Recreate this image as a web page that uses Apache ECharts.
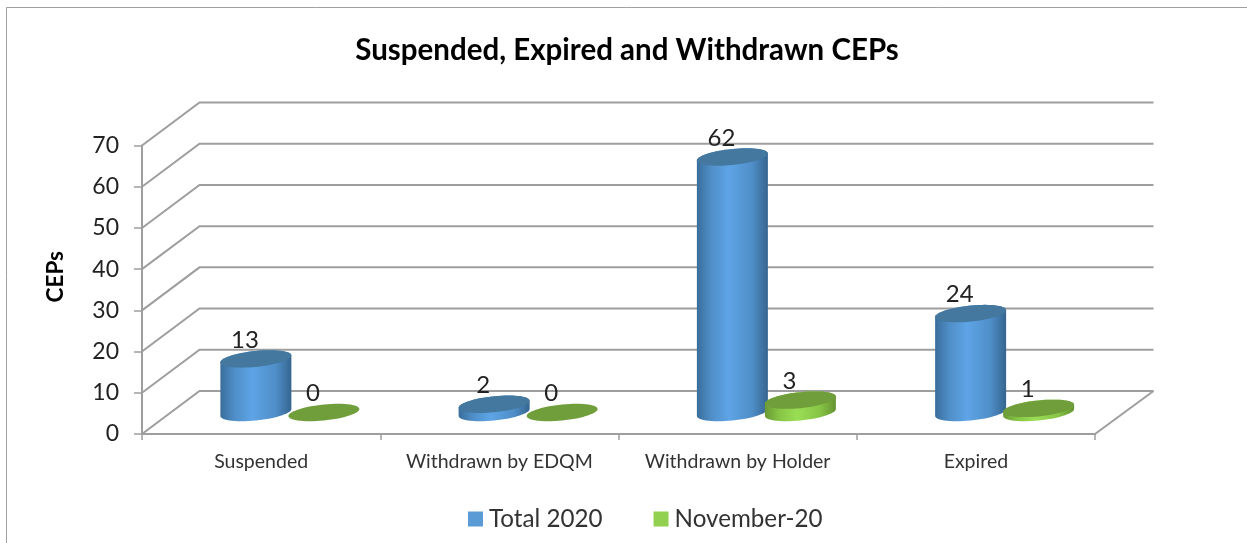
<!DOCTYPE html>
<html>
<head>
<meta charset="utf-8">
<style>html,body{margin:0;padding:0;background:#fff}#c{width:1247px;height:543px}</style>
<script src="https://cdn.jsdelivr.net/npm/echarts@6/dist/echarts.min.js"></script>
</head>
<body>
<div id="c"></div>
<script>
const chartTitle = 'Suspended, Expired and Withdrawn CEPs';
const categories = ['Suspended', 'Withdrawn by EDQM', 'Withdrawn by Holder', 'Expired'];
const total2020 = [13, 2, 62, 24];
const november20 = [0, 0, 3, 1];
const tickValues = [0, 10, 20, 30, 40, 50, 60, 70];

const FONT = 'Lato';
const DEPTH_X = 57.5, DEPTH_Y = -43;
const GRID_COLOR = '#9e9e9e';
const R_X = 35.5, R_Y = 8, SKEW = 3.5;
const SLOT = 34;

const blue = {
  legend: '#5b9bd5',
  side: ['#3a6e9b', '#4f8ec8', '#5ea4e6', '#4f8ec8', '#35658f'],
  top: '#44789f'
};
const green = {
  legend: '#92d050',
  side: ['#6a9a35', '#86c445', '#9ade55', '#86c445', '#659332'],
  top: '#6f9e3a'
};

function ellipsePoints(cx, cy, from, to, n) {
  const pts = [];
  for (let i = 0; i <= n; i++) {
    const t = from + (to - from) * i / n;
    pts.push([cx + R_X * Math.cos(t), cy - R_Y * Math.sin(t) - SKEW * Math.cos(t)]);
  }
  return pts;
}

function cylinder(sign, pal) {
  return function (params, api) {
    const v = api.value(1);
    const base = api.coord([api.value(0), 0]);
    const head = api.coord([api.value(0), v]);
    const cx = base[0] + DEPTH_X / 2 + sign * SLOT;
    const yBase = base[1] + DEPTH_Y / 2;
    const yTop = head[1] + DEPTH_Y / 2;
    const children = [];
    if (v > 0) {
      const lower = ellipsePoints(cx, yBase, Math.PI, 2 * Math.PI, 30);
      const upper = ellipsePoints(cx, yTop, 0, Math.PI, 30);
      const stops = pal.side.map((c, i) => ({ offset: [0, 0.2, 0.45, 0.78, 1][i], color: c }));
      children.push({
        type: 'polygon',
        shape: { points: lower.concat(upper) },
        style: { fill: new echarts.graphic.LinearGradient(0, 0, 1, 0, stops) }
      });
    }
    children.push({
      type: 'polygon',
      shape: { points: ellipsePoints(cx, yTop, 0, 2 * Math.PI, 60) },
      style: { fill: pal.top }
    });
    children.push({
      type: 'text',
      style: {
        x: cx - 11, y: yTop - 19, text: String(v),
        font: '24px ' + FONT, fill: '#222222', align: 'center', verticalAlign: 'middle'
      }
    });
    return { type: 'group', children: children };
  };
}

function wallLines(params, api) {
  const band = api.size([1, 0])[0];
  const p = api.coord([0, api.value(1)]);
  const left = p[0] - band / 2;
  const right = left + band * categories.length;
  const style = { stroke: GRID_COLOR, lineWidth: 2, fill: null };
  const children = [
    { type: 'polyline', shape: { points: [[left, p[1]], [left + DEPTH_X, p[1] + DEPTH_Y], [right + DEPTH_X + 1, p[1] + DEPTH_Y]] }, style: style }
  ];
  if (api.value(1) === 0) {
    children.push({ type: 'line', shape: { x1: right, y1: p[1], x2: right + DEPTH_X + 1, y2: p[1] + DEPTH_Y }, style: style });
  }
  return { type: 'group', children: children };
}

const chart = echarts.init(document.getElementById('c'), null, { renderer: 'canvas' });
chart.setOption({
  animation: false,
  backgroundColor: '#ffffff',
  title: {
    text: chartTitle, left: 622, top: 30, textAlign: 'center',
    textStyle: { fontFamily: FONT, fontWeight: 'bold', fontSize: 29.5, color: '#000000' }
  },
  legend: {
    data: ['Total 2020', 'November-20'], left: 463, top: 502,
    icon: 'rect', itemWidth: 15, itemHeight: 15, itemGap: 51,
    textStyle: { fontFamily: FONT, fontSize: 24.2, color: '#333333', padding: [0, 0, 0, 1] }
  },
  grid: { left: 142, top: 145.5, width: 953, height: 288.5 },
  xAxis: {
    type: 'category', data: categories,
    axisLine: { lineStyle: { color: GRID_COLOR, width: 2 } },
    axisTick: { show: true, interval: 0, length: 6, lineStyle: { color: GRID_COLOR, width: 1.5 } },
    axisLabel: { interval: 0, fontFamily: FONT, fontSize: 19.5, color: '#333333', margin: 18 }
  },
  yAxis: {
    type: 'value', min: 0, max: 70, interval: 10,
    name: 'CEPs', nameLocation: 'middle', nameRotate: 90, nameGap: 75,
    nameTextStyle: { fontFamily: FONT, fontWeight: 'bold', fontSize: 22.5, color: '#000000', padding: [0, 0, 0, 26] },
    splitLine: { show: false },
    axisLine: { show: true, lineStyle: { color: GRID_COLOR, width: 2 } },
    axisTick: { show: true, length: 8, lineStyle: { color: GRID_COLOR, width: 1.5 } },
    axisLabel: { fontFamily: FONT, fontSize: 23, color: '#222222', margin: 23, padding: [2, 0, 0, 0] }
  },
  graphic: [{
    type: 'polyline', silent: true,
    shape: { points: [[6.5, 543], [6.5, 7.5], [1247, 7.5]] },
    style: { stroke: '#a0a0a0', lineWidth: 1, fill: null }
  }],
  series: [
    { type: 'custom', name: 'walls', renderItem: wallLines, clip: false, silent: true, z: 1,
      encode: { x: 0, y: 1 }, data: tickValues.map(v => [0, v]) },
    { type: 'custom', name: 'Total 2020', renderItem: cylinder(-1, blue), clip: false, z: 3,
      itemStyle: { color: blue.legend }, encode: { x: 0, y: 1 }, data: total2020.map((v, i) => [i, v]) },
    { type: 'custom', name: 'November-20', renderItem: cylinder(1, green), clip: false, z: 4,
      itemStyle: { color: green.legend }, encode: { x: 0, y: 1 }, data: november20.map((v, i) => [i, v]) }
  ]
});
</script>
</body>
</html>
